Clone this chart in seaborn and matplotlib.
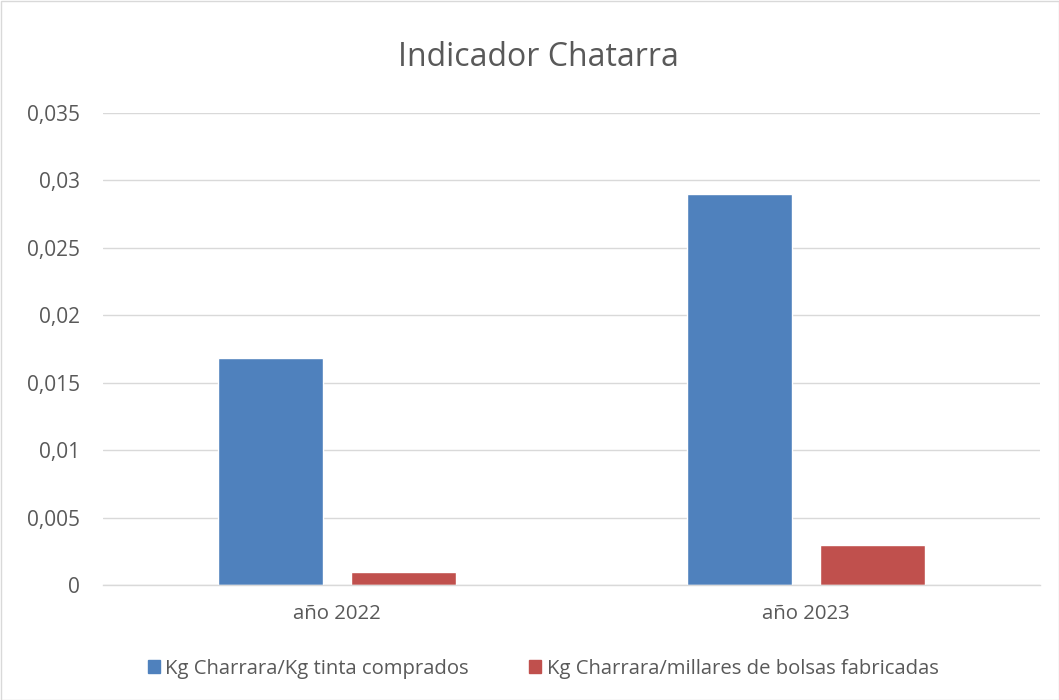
import matplotlib
matplotlib.use("Agg")
import matplotlib.pyplot as plt
import seaborn as sns
import pandas as pd
from matplotlib.patches import Rectangle
from matplotlib.ticker import FuncFormatter

categories = ["año 2022", "año 2023"]
series_names = ["Kg Charrara/Kg tinta comprados", "Kg Charrara/millares de bolsas fabricadas"]
tinta_values = [0.0168, 0.029]
bolsas_values = [0.001, 0.003]
yticks = [0, 0.005, 0.01, 0.015, 0.02, 0.025, 0.03, 0.035]
colors = ["#4F81BD", "#C0504D"]

df = pd.DataFrame({
    "cat": categories * 2,
    "serie": [series_names[0]] * 2 + [series_names[1]] * 2,
    "val": tinta_values + bolsas_values,
})

sns.set_theme(style="white")
plt.rcParams['font.family'] = ['Open Sans', 'DejaVu Sans']
txt = "#595959"

fig = plt.figure(figsize=(10.59, 7.0), dpi=100)
ax = fig.add_axes([103/1059, 1-585/700, (1040-103)/1059, (585-113)/700])

sns.barplot(data=df, x="cat", y="val", hue="serie", palette=colors,
            width=0.568, gap=0.211, ax=ax, saturation=1, legend=False)

ax.set_xlim(-0.5, 1.5)
ax.set_ylim(0, 0.035)
ax.set_yticks(yticks)
ax.yaxis.set_major_formatter(FuncFormatter(lambda v, p: ("%g" % round(v, 4)).replace(".", ",")))
ax.grid(axis="y", color="#D9D9D9", linewidth=1.0)
ax.set_axisbelow(True)
for s in ["top", "right", "left"]:
    ax.spines[s].set_visible(False)
ax.spines["bottom"].set_color("#D9D9D9")
ax.spines["bottom"].set_linewidth(1.0)
ax.tick_params(axis="both", length=0, colors=txt)
ax.tick_params(axis="y", pad=16.5, labelsize=15)
ax.tick_params(axis="x", pad=14, labelsize=14.7)
ax.set_xlabel("")
ax.set_ylabel("")

fig.text(538/1059, 1-57/700, "Indicador Chatarra", ha="center", va="center",
         fontsize=23, color=txt)

handles = [Rectangle((0, 0), 1, 1, color=c) for c in colors]
fig.legend(handles, series_names, loc="center", bbox_to_anchor=(543/1059, 1-669/700),
           ncol=2, frameon=False, fontsize=14.6, labelcolor=txt,
           handlelength=0.6, handleheight=0.6, handletextpad=0.25, columnspacing=3.0)

fig.add_artist(Rectangle((0.5/1059, 0.5/700), 1-1/1059, 1-1/700, transform=fig.transFigure,
                         fill=False, edgecolor="#D9D9D9", linewidth=1.0))

fig.savefig("out.png", dpi=100)
